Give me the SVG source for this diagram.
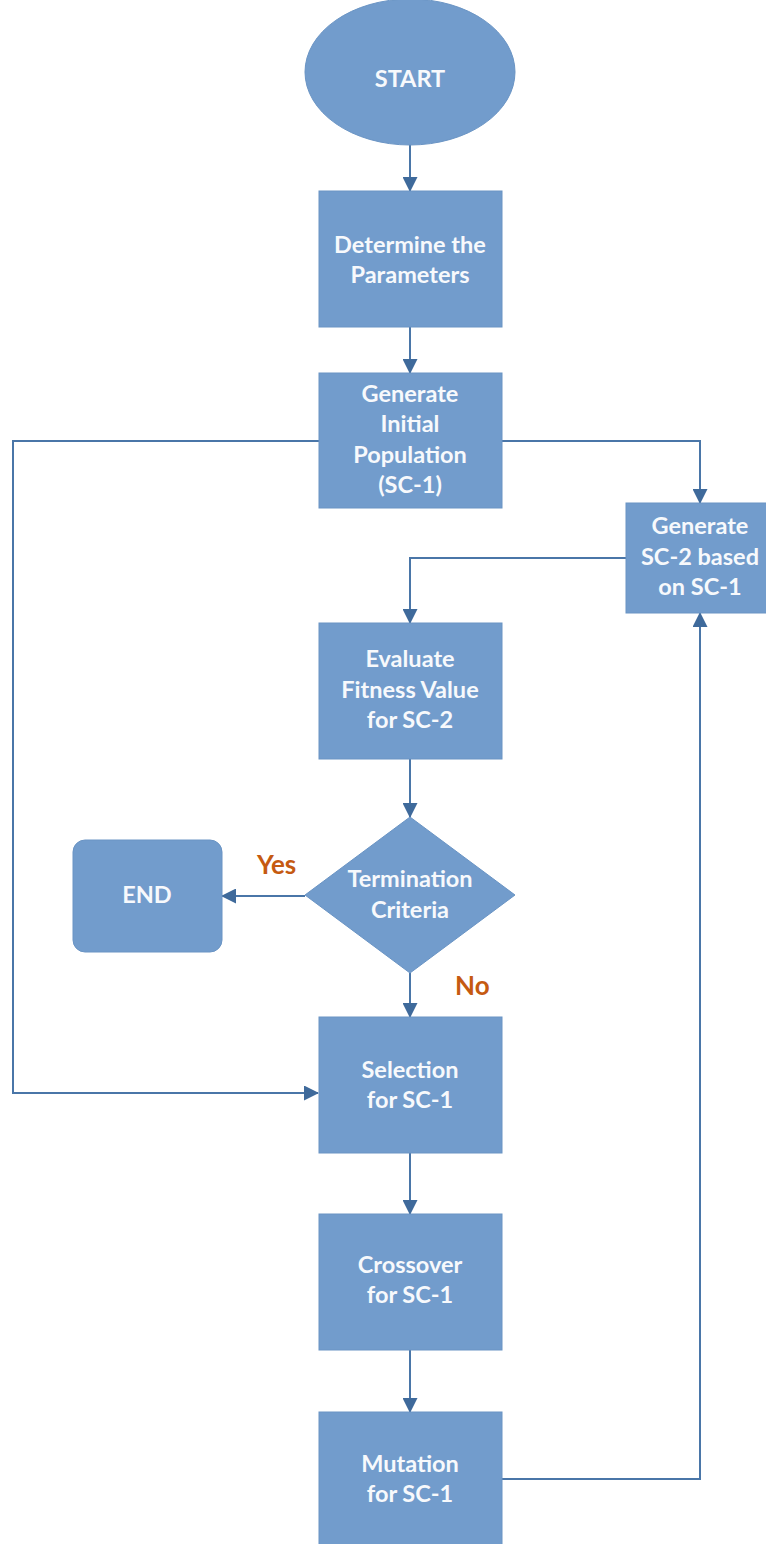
<svg xmlns="http://www.w3.org/2000/svg" width="766" height="1544" viewBox="0 0 766 1544">
<style>
.node{fill:#729ccc;stroke:#6a94c4;stroke-width:1}
.lbl{font-family:Lato,"Open Sans",sans-serif;font-weight:700;font-size:23.5px;fill:#f7f9fc;text-anchor:middle}
.ans{font-family:Lato,"Open Sans",sans-serif;font-weight:700;font-size:26px;fill:#c55a11}
.conn{fill:none;stroke:#4a76a8;stroke-width:2}
</style>
<defs>
<marker id="ah" markerUnits="userSpaceOnUse" markerWidth="15" markerHeight="15" viewBox="0 0 15 15" refX="14" refY="7.5" orient="auto">
<path d="M0,0 L15,7.5 L0,15 Z" fill="#3f6a9b"/>
</marker>
</defs>
<rect width="766" height="1544" fill="#ffffff"/>
<g id="connectors">
<path class="conn" d="M410,145 V191" marker-end="url(#ah)"/>
<path class="conn" d="M410,327 V373" marker-end="url(#ah)"/>
<path class="conn" d="M502,441 H700 V503" marker-end="url(#ah)"/>
<path class="conn" d="M319,441 H13 V1093 H318" marker-end="url(#ah)"/>
<path class="conn" d="M626,558 H410 V623" marker-end="url(#ah)"/>
<path class="conn" d="M410,759 V817" marker-end="url(#ah)"/>
<path class="conn" d="M305,896 H222" marker-end="url(#ah)"/>
<path class="conn" d="M410,973 V1017" marker-end="url(#ah)"/>
<path class="conn" d="M410,1153 V1214" marker-end="url(#ah)"/>
<path class="conn" d="M410,1350 V1412" marker-end="url(#ah)"/>
<path class="conn" d="M502,1479 H700 V613" marker-end="url(#ah)"/>
</g>
<g id="start">
<ellipse class="node" cx="410" cy="72" rx="105" ry="73"/>
<text class="lbl" x="410" y="87">START</text>
</g>
<g id="determine">
<rect class="node" x="319" y="191" width="183" height="136"/>
<text class="lbl" x="410" y="253">Determine the</text>
<text class="lbl" x="410" y="283">Parameters</text>
</g>
<g id="generate-initial">
<rect class="node" x="319" y="373" width="183" height="135"/>
<text class="lbl" x="410" y="402">Generate</text>
<text class="lbl" x="410" y="432">Initial</text>
<text class="lbl" x="410" y="463">Population</text>
<text class="lbl" x="410" y="493">(SC-1)</text>
</g>
<g id="generate-sc2">
<rect class="node" x="626" y="503" width="148" height="110"/>
<text class="lbl" x="700" y="534">Generate</text>
<text class="lbl" x="700" y="565">SC-2 based</text>
<text class="lbl" x="700" y="595">on SC-1</text>
</g>
<g id="evaluate">
<rect class="node" x="319" y="623" width="183" height="136"/>
<text class="lbl" x="410" y="667">Evaluate</text>
<text class="lbl" x="410" y="698">Fitness Value</text>
<text class="lbl" x="410" y="728">for SC-2</text>
</g>
<g id="termination">
<polygon class="node" points="410,817 515,895 410,973 305,895"/>
<text class="lbl" x="410" y="887">Termination</text>
<text class="lbl" x="410" y="918">Criteria</text>
</g>
<g id="end">
<rect class="node" x="73" y="840" width="149" height="112" rx="12" ry="12"/>
<text class="lbl" x="147" y="903">END</text>
</g>
<g id="selection">
<rect class="node" x="319" y="1017" width="183" height="136"/>
<text class="lbl" x="410" y="1078">Selection</text>
<text class="lbl" x="410" y="1108">for SC-1</text>
</g>
<g id="crossover">
<rect class="node" x="319" y="1214" width="183" height="136"/>
<text class="lbl" x="410" y="1273">Crossover</text>
<text class="lbl" x="410" y="1303">for SC-1</text>
</g>
<g id="mutation">
<rect class="node" x="319" y="1412" width="183" height="136"/>
<text class="lbl" x="410" y="1472">Mutation</text>
<text class="lbl" x="410" y="1502">for SC-1</text>
</g>
<g id="labels">
<text class="ans" x="257" y="874">Yes</text>
<text class="ans" x="455" y="995">No</text>
</g>
</svg>
